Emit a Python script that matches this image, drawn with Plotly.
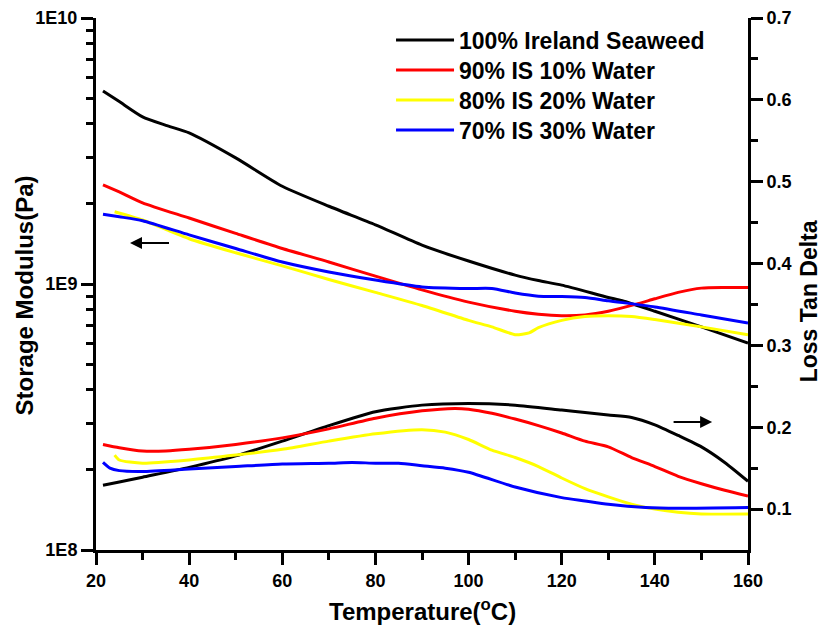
import plotly.graph_objects as go

# ---------------- data ----------------
names = ["100% Ireland Seaweed", "90% IS 10% Water", "80% IS 20% Water", "70% IS 30% Water"]
colors = ["#000000", "#ff0000", "#ffff00", "#0000ff"]

# Storage modulus (Pa)
t_g_black = [21.5, 25, 30, 35, 40, 50, 60, 70, 80, 90, 100, 110, 115, 120, 130, 133, 140, 150, 160]
g_black = [5.32e9, 4.85e9, 4.25e9, 3.95e9, 3.70e9, 2.98e9, 2.33e9, 1.96e9, 1.67e9, 1.40e9, 1.22e9,
           1.08e9, 1.03e9, 0.99e9, 0.89e9, 0.865e9, 0.79e9, 0.69e9, 0.60e9]

t_g_red = [21.5, 25, 30, 40, 50, 60, 70, 80, 90, 100, 110, 115, 120, 125, 130, 136, 140, 145, 150, 155, 160]
g_red = [2.36e9, 2.22e9, 2.02e9, 1.77e9, 1.55e9, 1.36e9, 1.21e9, 1.07e9, 0.95e9, 0.855e9, 0.79e9,
         0.77e9, 0.76e9, 0.765e9, 0.79e9, 0.84e9, 0.88e9, 0.93e9, 0.965e9, 0.97e9, 0.97e9]

t_g_yellow = [24, 30, 40, 50, 60, 70, 80, 90, 100, 105, 110, 113, 115, 120, 125, 130, 135, 140, 150, 160]
g_yellow = [1.87e9, 1.74e9, 1.48e9, 1.31e9, 1.17e9, 1.04e9, 0.93e9, 0.83e9, 0.73e9, 0.69e9, 0.645e9,
            0.655e9, 0.685e9, 0.73e9, 0.755e9, 0.76e9, 0.755e9, 0.735e9, 0.69e9, 0.645e9]

t_g_blue = [21.5, 25, 30, 40, 50, 60, 70, 80, 90, 100, 105, 110, 115, 120, 125, 130, 140, 150, 160]
g_blue = [1.83e9, 1.79e9, 1.73e9, 1.53e9, 1.36e9, 1.21e9, 1.11e9, 1.035e9, 0.975e9, 0.962e9, 0.962e9,
          0.925e9, 0.90e9, 0.898e9, 0.89e9, 0.865e9, 0.82e9, 0.765e9, 0.713e9]

# Loss tan delta
t_d_black = [21.5, 25, 30, 40, 50, 60, 70, 80, 90, 100, 110, 120, 125, 130, 135, 140, 145, 150, 155, 160]
d_black = [0.129, 0.133, 0.139, 0.151, 0.165, 0.183, 0.202, 0.219, 0.227, 0.229, 0.227, 0.221, 0.218,
           0.215, 0.212, 0.203, 0.190, 0.176, 0.157, 0.134]

t_d_red = [21.5, 25, 30, 35, 40, 50, 60, 70, 80, 90, 97, 100, 105, 110, 115, 120, 125, 130, 135, 140,
           145, 150, 155, 160]
d_red = [0.179, 0.175, 0.171, 0.171, 0.173, 0.179, 0.187, 0.198, 0.211, 0.220, 0.223, 0.222, 0.217,
         0.210, 0.202, 0.193, 0.183, 0.176, 0.163, 0.152, 0.140, 0.131, 0.123, 0.116]

t_d_yellow = [24, 25, 30, 40, 50, 60, 70, 80, 90, 95, 100, 105, 110, 115, 120, 125, 130, 135, 140, 145, 150, 160]
d_yellow = [0.166, 0.160, 0.156, 0.160, 0.166, 0.173, 0.183, 0.192, 0.197, 0.194, 0.185, 0.172, 0.163,
            0.152, 0.138, 0.125, 0.115, 0.106, 0.100, 0.096, 0.094, 0.094]

t_d_blue = [21.5, 23, 25, 30, 40, 50, 60, 70, 75, 80, 85, 90, 95, 100, 110, 120, 125, 130, 138, 145, 160]
d_blue = [0.157, 0.150, 0.147, 0.146, 0.149, 0.152, 0.155, 0.156, 0.157, 0.156, 0.156, 0.153, 0.150,
          0.145, 0.127, 0.114, 0.110, 0.106, 0.102, 0.101, 0.102]

g_t = [t_g_black, t_g_red, t_g_yellow, t_g_blue]
g_v = [g_black, g_red, g_yellow, g_blue]
d_t = [t_d_black, t_d_red, t_d_yellow, t_d_blue]
d_v = [d_black, d_red, d_yellow, d_blue]

x_ticks = [20, 40, 60, 80, 100, 120, 140, 160]
x_ticktext = ["20", "40", "60", "80", "100", "120", "140", "160"]
left_ticks = [1e8, 1e9, 1e10]
left_ticktext = ["1E8", "1E9", "1E10"]
right_ticks = [0.1, 0.2, 0.3, 0.4, 0.5, 0.6, 0.7]
right_ticktext = ["0.1", "0.2", "0.3", "0.4", "0.5", "0.6", "0.7"]

# ---------------- figure ----------------
FONT = "Liberation Sans, Arial, sans-serif"
legend_ids = ["legend", "legend2", "legend3", "legend4"]
legend_y = [0.9586, 0.9023, 0.8459, 0.7895]


def bold(labels):
    return ["<b>" + s + "</b>" for s in labels]


fig = go.Figure()
for i in range(4):
    fig.add_trace(go.Scatter(x=g_t[i], y=g_v[i], mode="lines", name=names[i],
                             legendgroup=names[i], showlegend=True, legend=legend_ids[i],
                             line=dict(color=colors[i], width=3, shape="spline", smoothing=0.6),
                             yaxis="y"))
for i in range(4):
    fig.add_trace(go.Scatter(x=d_t[i], y=d_v[i], mode="lines", name=names[i],
                             legendgroup=names[i], showlegend=False,
                             line=dict(color=colors[i], width=3, shape="spline", smoothing=0.6),
                             yaxis="y2"))

tickfont = dict(family=FONT, size=18, color="black", weight="bold")
titlefont = dict(family=FONT, size=24, color="black", weight="bold")
legfont = dict(family=FONT, size=23, color="black", weight="bold")

fig.update_layout(
    width=819, height=620,
    margin=dict(l=88, r=79, t=10, b=78, autoexpand=False),
    paper_bgcolor="white", plot_bgcolor="white",
    font=dict(family=FONT, color="black"),
    xaxis=dict(
        range=[20, 160], showline=True, linecolor="black", linewidth=3, automargin=False,
        showgrid=False, zeroline=False, ticks="outside", ticklen=12, tickwidth=3,
        tickcolor="black", tickmode="array", tickvals=x_ticks, ticktext=bold(x_ticktext),
        tickfont=tickfont,
        minor=dict(ticks="outside", ticklen=7, tickwidth=3, tickcolor="black",
                   tickmode="array", tickvals=[30, 50, 70, 90, 110, 130, 150]),
    ),
    yaxis=dict(
        type="log", range=[8, 10], showline=True, linecolor="black", linewidth=3, automargin=False,
        showgrid=False, zeroline=False, ticks="outside", ticklen=12, tickwidth=3,
        tickcolor="black", tickmode="array", tickvals=left_ticks, ticktext=bold(left_ticktext),
        tickfont=tickfont,
        minor=dict(ticks="outside", ticklen=7, tickwidth=3, tickcolor="black",
                   tickmode="array",
                   tickvals=[k * 1e8 for k in range(2, 10)] + [k * 1e9 for k in range(2, 10)]),
    ),
    yaxis2=dict(
        overlaying="y", side="right", range=[0.05, 0.7], showline=True, linecolor="black",
        linewidth=3, showgrid=False, zeroline=False, ticks="outside", ticklen=12, tickwidth=3,
        automargin=False,
        tickcolor="black", tickmode="array", tickvals=right_ticks, ticktext=bold(right_ticktext),
        tickfont=tickfont,
        minor=dict(ticks="outside", ticklen=7, tickwidth=3, tickcolor="black",
                   tickmode="array", tickvals=[0.15, 0.25, 0.35, 0.45, 0.55, 0.65]),
    ),
)

for i, lid in enumerate(legend_ids):
    fig.update_layout({lid: dict(x=0.4525, y=legend_y[i], xanchor="left", yanchor="middle",
                                 bgcolor="rgba(0,0,0,0)", font=legfont, itemwidth=58)})

# axis titles
fig.add_annotation(text="<b>Storage Modulus(Pa)</b>", x=-0.110, y=0.479, xref="paper", yref="paper",
                   textangle=-90, showarrow=False, font=titlefont, xanchor="center", yanchor="middle")
fig.add_annotation(text="<b>Loss Tan Delta</b>", x=1.094, y=0.468, xref="paper", yref="paper",
                   textangle=-90, showarrow=False, font=dict(family=FONT, size=23, color="black", weight="bold"),
                   xanchor="center", yanchor="middle")
fig.add_annotation(text="<b>Temperature(<sup>o</sup>C)</b>", x=0.5, y=-0.113, xref="paper", yref="paper",
                   showarrow=False, font=titlefont, xanchor="center", yanchor="middle")

# direction arrows
fig.add_annotation(x=27.3, y=9.154, ax=36.0, ay=9.154, xref="x", yref="y", axref="x", ayref="y",
                   text="", showarrow=True, arrowhead=2, arrowsize=1.2, arrowwidth=2, arrowcolor="black")
fig.add_annotation(x=152.3, y=0.2063, ax=143.7, ay=0.2063, xref="x", yref="y2", axref="x", ayref="y2",
                   text="", showarrow=True, arrowhead=2, arrowsize=1.2, arrowwidth=2, arrowcolor="black")

fig.write_html("out.html")
